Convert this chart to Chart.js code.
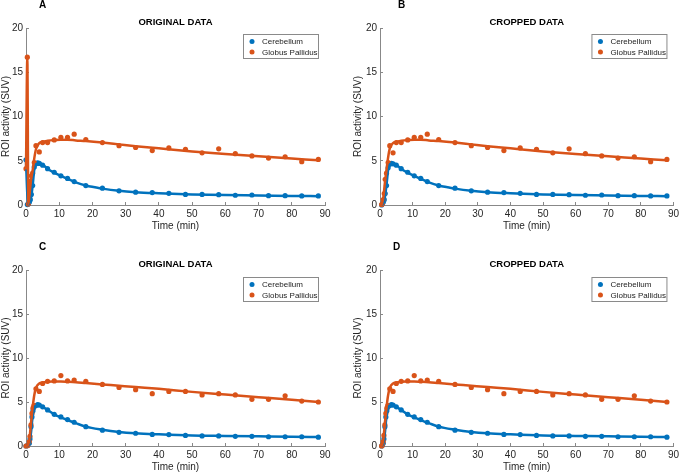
<!DOCTYPE html>
<html>
<head>
<meta charset="utf-8">
<script src="https://cdn.jsdelivr.net/npm/chart.js@4.4.1/dist/chart.umd.min.js"></script>
<style>
  html, body { margin: 0; padding: 0; background: #fff; }
  #wrap { position: relative; width: 685px; height: 474px; overflow: hidden; }
  .panel { position: absolute; }
</style>
</head>
<body>
<div id="wrap">
  <div class="panel" style="left:0;top:0"><canvas id="chartA" width="340" height="237"></canvas></div>
  <div class="panel" style="left:340px;top:0"><canvas id="chartB" width="345" height="237"></canvas></div>
  <div class="panel" style="left:0;top:237px"><canvas id="chartC" width="340" height="237"></canvas></div>
  <div class="panel" style="left:340px;top:237px"><canvas id="chartD" width="345" height="237"></canvas></div>
</div>
<script>
// tick labels
var xTickValues = [0, 10, 20, 30, 40, 50, 60, 70, 80, 90];
var yTickValues = [0, 5, 10, 15, 20];
var seriesNames = ["Cerebellum", "Globus Pallidus"];

// frame times after the first 4 min (shared by all panels)
var lateTimes = [5, 6.5, 8.5, 10.5, 12.5, 14.5, 18, 23, 28, 33, 38, 43, 48, 53, 58, 63, 68, 73, 78, 83, 88];
var lateCerebAB = [4.5, 4.1, 3.7, 3.3, 3.0, 2.65, 2.2, 1.9, 1.6, 1.45, 1.4, 1.32, 1.2, 1.2, 1.17, 1.1, 1.13, 1.05, 1.05, 1.02, 1.02];
var latePallidAB = [7.05, 7.05, 7.35, 7.65, 7.65, 8.0, 7.4, 7.05, 6.7, 6.5, 6.15, 6.45, 6.3, 5.9, 6.35, 5.8, 5.55, 5.3, 5.45, 4.9, 5.15];
var lateCerebCD = [4.45, 4.1, 3.6, 3.3, 3.0, 2.7, 2.2, 1.8, 1.55, 1.45, 1.32, 1.3, 1.2, 1.15, 1.15, 1.1, 1.1, 1.05, 1.05, 1.05, 1.0];
var latePallidCD = [7.1, 7.35, 7.4, 8.0, 7.4, 7.5, 7.35, 7.0, 6.65, 6.4, 5.95, 6.2, 6.2, 5.8, 5.95, 5.8, 5.3, 5.3, 5.7, 5.1, 5.0];

// early frames, per panel
var earlyTimesA = [0, 0.4, 0.7, 1.0, 1.3, 1.6, 2.0, 2.5, 3, 3.5, 4];
var earlyCerebA = [5.1, 0.05, 0.1, 0.3, 0.6, 1.2, 2.2, 4.3, 4.65, 4.75, 4.7];
var earlyPallidA = [4.1, 16.7, 0.1, 1.2, 2.7, 3.3, 3.6, 4.8, 6.7, null, 6.0];

var earlyTimesB = [0.5, 0.7, 1.0, 1.3, 1.6, 2.0, 2.5, 3, 3.5, 4];
var earlyCerebB = [0, 0.1, 0.3, 0.6, 1.3, 2.2, 4.2, 4.6, 4.7, 4.65];
var earlyPallidB = [0.05, 0.1, 0.6, 1.3, 2.9, 3.6, 4.8, 6.7, null, 5.9];

var earlyTimesC = [0, 0.5, 1.0, 1.2, 1.5, 1.8, 2.1, 2.4, 3, 3.5, 4];
var earlyCerebC = [0, 0.05, 0.3, 0.8, 2.2, 3.3, 4.0, 4.4, 4.6, 4.7, 4.65];
var earlyPallidC = [0, 0.05, 0.5, 1.1, 2.4, 3.7, 4.3, 4.6, 6.5, null, 6.2];

var earlyTimesD = [0.5, 0.7, 1.0, 1.2, 1.5, 1.8, 2.1, 2.4, 3, 3.5, 4];
var earlyCerebD = [0, 0.05, 0.3, 0.8, 2.2, 3.3, 4.0, 4.4, 4.6, 4.7, 4.65];
var earlyPallidD = [0, 0.1, 0.5, 1.2, 2.4, 3.7, 4.3, 4.6, 6.5, null, 6.2];

// model fits
var fitLateTimes = [5, 6.5, 8.5, 10.5, 12.5, 15, 18, 23, 28, 33, 40, 50, 60, 70, 80, 88];
var fitLateCerebAB = [4.55, 4.1, 3.65, 3.3, 2.95, 2.55, 2.2, 1.85, 1.6, 1.45, 1.33, 1.2, 1.12, 1.08, 1.03, 1.0];
var fitLatePallidAB = [7.15, 7.25, 7.33, 7.38, 7.38, 7.3, 7.22, 7.05, 6.85, 6.65, 6.4, 6.05, 5.75, 5.5, 5.25, 5.05];
var fitLateCerebCD = [4.45, 4.1, 3.6, 3.25, 2.95, 2.6, 2.2, 1.85, 1.6, 1.45, 1.33, 1.2, 1.15, 1.1, 1.05, 1.02];
var fitLatePallidCD = [7.2, 7.3, 7.32, 7.33, 7.3, 7.25, 7.15, 7.0, 6.85, 6.7, 6.5, 6.15, 5.85, 5.55, 5.25, 5.0];

var fitEarlyTimesA = [0, 0.4, 0.7, 1.0, 1.5, 2.0, 2.5, 3, 4];
var fitEarlyCerebA = [5.0, 1.2, 0.05, 0.2, 0.8, 2.2, 4.0, 4.6, 4.75];
var fitEarlyPallidA = [4.0, 16.6, 0.1, 1.0, 2.8, 3.9, 5.3, 6.3, 7.0];

var fitEarlyTimesB = [0.5, 1.0, 1.5, 2.0, 2.5, 3, 4];
var fitEarlyCerebB = [0, 0.2, 0.9, 2.3, 4.0, 4.6, 4.72];
var fitEarlyPallidB = [0, 0.8, 2.5, 4.0, 5.4, 6.4, 7.0];

var fitEarlyTimesC = [0, 0.5, 1.0, 1.5, 2.0, 2.5, 3, 4];
var fitEarlyCerebC = [0, 0.02, 0.3, 1.5, 3.4, 4.3, 4.6, 4.65];
var fitEarlyPallidC = [0, 0.05, 0.7, 2.6, 4.4, 5.8, 6.6, 7.1];

var fitEarlyTimesD = [0.5, 1.0, 1.5, 2.0, 2.5, 3, 4];
var fitEarlyCerebD = [0, 0.3, 1.5, 3.4, 4.3, 4.6, 4.65];
var fitEarlyPallidD = [0, 0.7, 2.6, 4.4, 5.8, 6.6, 7.1];

var blue = "#0072BD";
var orange = "#D95319";
var font = "'Liberation Sans', Arial, sans-serif";

function toPoints(times, values) {
  var pts = [];
  for (var i = 0; i < times.length; i++) {
    if (values[i] !== null) pts.push({ x: times[i], y: values[i] });
  }
  return pts;
}

// draws panel letter, bold title and the boxed legend
var decorPlugin = {
  id: "decor",
  afterDraw: function (chart, args, o) {
    var ctx = chart.ctx;
    var area = chart.chartArea;
    ctx.save();
    ctx.fillStyle = "#000";
    ctx.textBaseline = "middle";
    ctx.textAlign = "left";
    ctx.font = "bold 10px " + font;
    ctx.fillText(o.letter, o.letterX, o.letterY);
    ctx.textAlign = "center";
    ctx.font = "bold 9.5px " + font;
    ctx.fillText(o.title, (area.left + area.right) / 2, o.titleY);

    var lx = area.right - 82, ly = area.top + o.legendDy;
    ctx.fillStyle = "#fff";
    ctx.fillRect(lx, ly, 75, 24);
    ctx.strokeStyle = "#8a8a8a";
    ctx.lineWidth = 1;
    ctx.strokeRect(lx + 0.5, ly + 0.5, 75, 24);
    var cols = [blue, orange];
    ctx.font = "8px " + font;
    ctx.textAlign = "left";
    for (var i = 0; i < 2; i++) {
      var ry = ly + 7.5 + i * 10.5;
      ctx.fillStyle = cols[i];
      ctx.beginPath();
      ctx.arc(lx + 9, ry, 2.5, 0, Math.PI * 2);
      ctx.fill();
      ctx.fillStyle = "#222";
      ctx.fillText(seriesNames[i], lx + 19, ry + 0.5);
    }
    ctx.restore();
  }
};

function makePanel(id, p) {
  var canvas = document.getElementById(id);
  var W = canvas.width, H = canvas.height;
  new Chart(canvas.getContext("2d"), {
    type: "scatter",
    data: {
      datasets: [
        {
          label: seriesNames[1] + " fit",
          data: toPoints(p.fitTimes, p.fitPallid),
          showLine: true, borderColor: orange, borderWidth: 2.5,
          pointRadius: 0, cubicInterpolationMode: "monotone", clip: false
        },
        {
          label: seriesNames[0] + " fit",
          data: toPoints(p.fitTimes, p.fitCereb),
          showLine: true, borderColor: blue, borderWidth: 2.5,
          pointRadius: 0, cubicInterpolationMode: "monotone", clip: false
        },
        {
          label: seriesNames[1],
          data: toPoints(p.times, p.pallid),
          backgroundColor: orange, borderWidth: 0, pointRadius: 2.6, clip: false
        },
        {
          label: seriesNames[0],
          data: toPoints(p.times, p.cereb),
          backgroundColor: blue, borderWidth: 0, pointRadius: 2.6, clip: false
        }
      ]
    },
    options: {
      responsive: false,
      animation: false,
      layout: {
        padding: { left: p.padLeft, top: p.area.top, right: W - p.area.right, bottom: 0 }
      },
      plugins: {
        legend: { display: false },
        tooltip: { enabled: false },
        decor: {
          letter: p.letter, letterX: p.letterX, letterY: p.letterY,
          title: p.title, titleY: p.titleY, legendDy: p.legendDy
        }
      },
      scales: {
        x: {
          type: "linear", min: 0, max: 90,
          afterBuildTicks: function (s) { s.ticks = xTickValues.map(function (v) { return { value: v }; }); },
          afterFit: function (s) { s.height = H - p.area.bottom; },
          grid: { drawOnChartArea: false, drawTicks: true, tickLength: -3, color: "#888" },
          border: { display: true, color: "#888", width: 1 },
          ticks: { color: "#262626", font: { family: font, size: 10 }, padding: 6, maxRotation: 0 },
          title: { display: true, text: "Time (min)", color: "#262626", font: { family: font, size: 10 }, padding: { top: 0, bottom: p.xTitlePad } }
        },
        y: {
          type: "linear", min: 0, max: 20,
          afterBuildTicks: function (s) { s.ticks = yTickValues.map(function (v) { return { value: v }; }); },
          afterFit: function (s) { s.width = p.area.left - p.padLeft; },
          grid: { drawOnChartArea: false, drawTicks: true, tickLength: -3, color: "#888" },
          border: { display: true, color: "#888", width: 1 },
          ticks: { color: "#262626", font: { family: font, size: 10 }, padding: 6 },
          title: { display: true, text: "ROI activity (SUV)", color: "#262626", font: { family: font, size: 10 }, padding: { top: 0, bottom: 0 } }
        }
      }
    },
    plugins: [decorPlugin]
  });
}

makePanel("chartA", {
  times: earlyTimesA.concat(lateTimes), cereb: earlyCerebA.concat(lateCerebAB), pallid: earlyPallidA.concat(latePallidAB),
  fitTimes: fitEarlyTimesA.concat(fitLateTimes), fitCereb: fitEarlyCerebA.concat(fitLateCerebAB), fitPallid: fitEarlyPallidA.concat(fitLatePallidAB),
  area: { left: 26, right: 325, top: 28, bottom: 205 }, padLeft: 0, xTitlePad: 5,
  letter: "A", letterX: 39, letterY: 5, title: "ORIGINAL DATA", titleY: 22, legendDy: 6
});
makePanel("chartB", {
  times: earlyTimesB.concat(lateTimes), cereb: earlyCerebB.concat(lateCerebAB), pallid: earlyPallidB.concat(latePallidAB),
  fitTimes: fitEarlyTimesB.concat(fitLateTimes), fitCereb: fitEarlyCerebB.concat(fitLateCerebAB), fitPallid: fitEarlyPallidB.concat(fitLatePallidAB),
  area: { left: 40, right: 338, top: 28, bottom: 205 }, padLeft: 12, xTitlePad: 5,
  letter: "B", letterX: 58, letterY: 5, title: "CROPPED DATA", titleY: 22, legendDy: 6
});
makePanel("chartC", {
  times: earlyTimesC.concat(lateTimes), cereb: earlyCerebC.concat(lateCerebCD), pallid: earlyPallidC.concat(latePallidCD),
  fitTimes: fitEarlyTimesC.concat(fitLateTimes), fitCereb: fitEarlyCerebC.concat(fitLateCerebCD), fitPallid: fitEarlyPallidC.concat(fitLatePallidCD),
  area: { left: 26, right: 325, top: 33, bottom: 209 }, padLeft: 0, xTitlePad: 1,
  letter: "C", letterX: 39, letterY: 10, title: "ORIGINAL DATA", titleY: 27, legendDy: 7
});
makePanel("chartD", {
  times: earlyTimesD.concat(lateTimes), cereb: earlyCerebD.concat(lateCerebCD), pallid: earlyPallidD.concat(latePallidCD),
  fitTimes: fitEarlyTimesD.concat(fitLateTimes), fitCereb: fitEarlyCerebD.concat(fitLateCerebCD), fitPallid: fitEarlyPallidD.concat(fitLatePallidCD),
  area: { left: 40, right: 338, top: 33, bottom: 209 }, padLeft: 12, xTitlePad: 1,
  letter: "D", letterX: 53, letterY: 10, title: "CROPPED DATA", titleY: 27, legendDy: 7
});
</script>
</body>
</html>
